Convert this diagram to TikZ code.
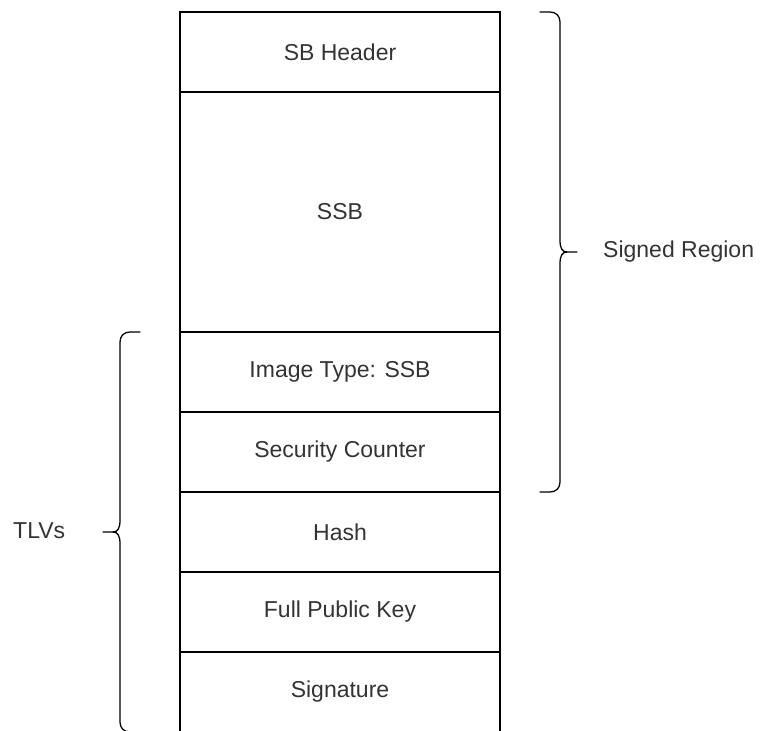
\documentclass[tikz,border=0pt]{standalone}
\usepackage{fontspec}
\setmainfont{Liberation Sans}
\begin{document}
\begin{tikzpicture}[x=1pt,y=-1pt,
  field/.style={draw=black,line width=1.5pt,minimum width=320pt,inner sep=0pt,
    text=black!80,font=\fontsize{23}{27}\selectfont},
  lbl/.style={text=black!80,font=\fontsize{23}{27}\selectfont,inner sep=0pt,anchor=west},
  brace/.style={draw=black,line width=1.3pt,line cap=round,line join=round}]
\useasboundingbox (0,0) rectangle (762,730);
\clip (0,0) rectangle (762,730);

% stacked image layout
\node[field,minimum height=80pt]  (hdr)  at (340,52)  {SB Header};
\node[field,minimum height=240pt] (ssb)  at (340,212) {SSB};
\node[field,minimum height=80pt]  (type) at (340,372) {Image Type: SSB};
\node[field,minimum height=80pt]  (ctr)  at (340,452) {Security Counter};
\node[field,minimum height=80pt]  (hash) at (340,532) {Hash};
\node[field,minimum height=80pt]  (key)  at (340,612) {Full Public Key};
\node[field,minimum height=80pt]  (sig)  at (340,692) {Signature};

% right brace: signed region
\coordinate (rtop) at (540,12);
\coordinate (rbot) at (540,492);
\coordinate (rtip) at (577,252);
\draw[brace] (rtop) -- (550,12) .. controls (556,12) and (560,16) .. (560,22)
  -- (560,240) .. controls (560,248) and (562,252) .. (567,252) -- (rtip);
\draw[brace] (rbot) -- (550,492) .. controls (556,492) and (560,488) .. (560,482)
  -- (560,264) .. controls (560,256) and (562,252) .. (567,252);
\node[lbl] (signed) at (603,252) {Signed Region};

% left brace: TLVs
\coordinate (ltop) at (140,332);
\coordinate (lbot) at (140,732);
\coordinate (ltip) at (103,532);
\draw[brace] (ltop) -- (130,332) .. controls (124,332) and (120,336) .. (120,342)
  -- (120,520) .. controls (120,528) and (118,532) .. (113,532) -- (ltip);
\draw[brace] (lbot) -- (130,732) .. controls (124,732) and (120,728) .. (120,722)
  -- (120,544) .. controls (120,536) and (118,532) .. (113,532);
\node[lbl] (tlvs) at (13,531) {TLVs};
\end{tikzpicture}
\end{document}
